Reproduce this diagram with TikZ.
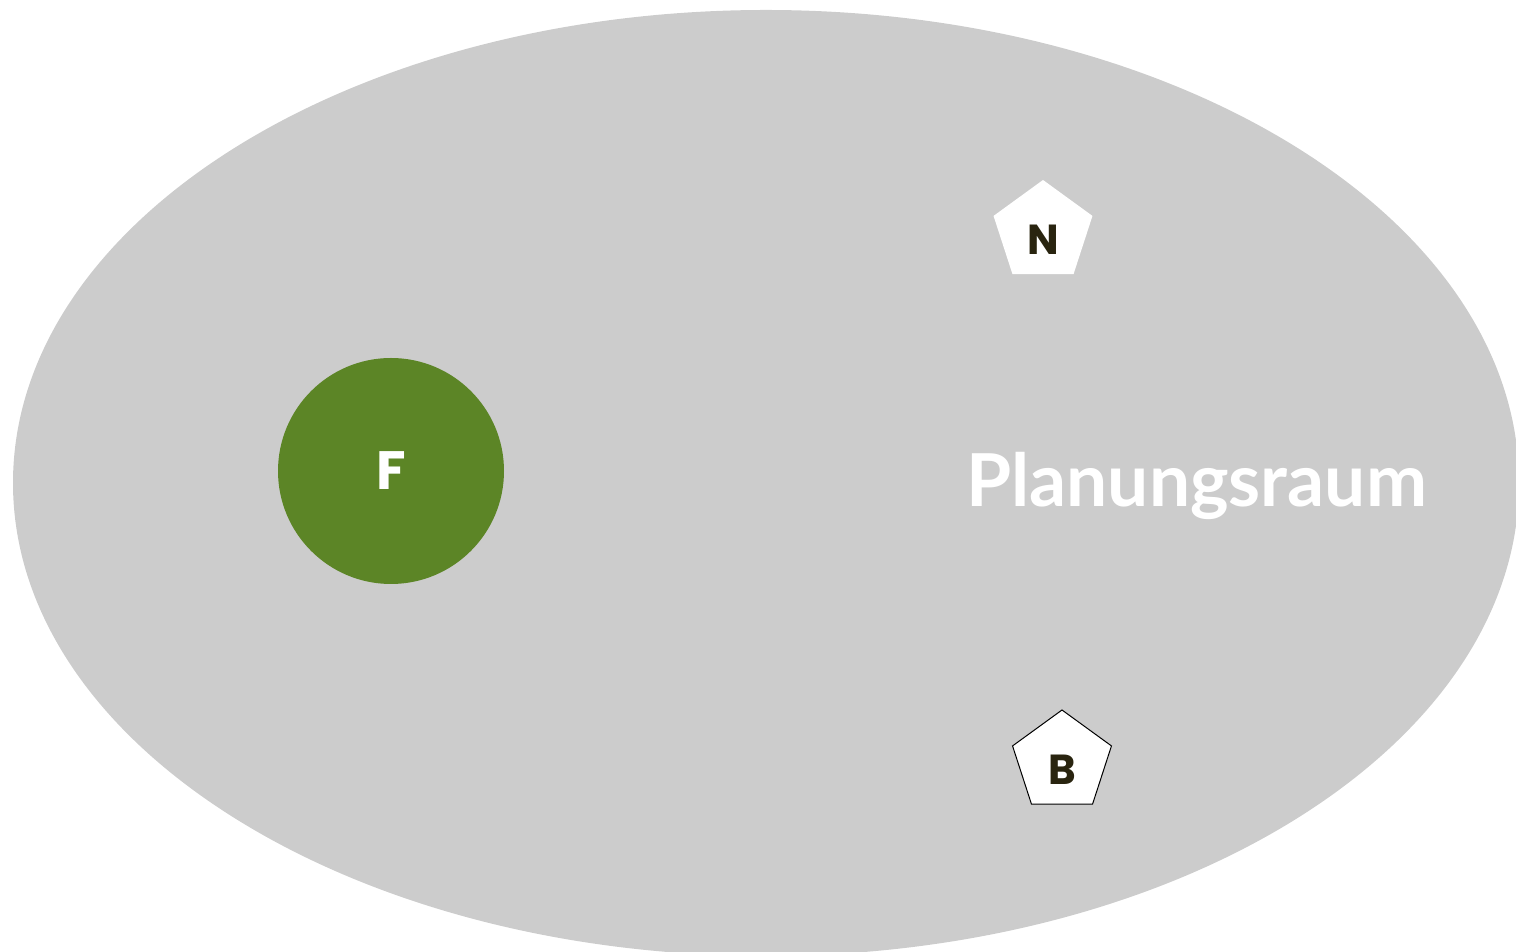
\documentclass[tikz,border=0pt]{standalone}
\usepackage{fontspec}
\setmainfont{Poppins}
\newfontfamily\raumfont{Lato}
\usetikzlibrary{shapes.geometric}
\begin{document}
\begin{tikzpicture}[x=1pt,y=1pt,
  raumfill/.style={fill=raumColor},
  fnode/.style={circle,fill=fColor,inner sep=0pt,minimum size=113pt,text=white,font=\bfseries\fontsize{27}{27}\selectfont},
  pnode/.style={regular polygon,regular polygon sides=5,fill=white,inner sep=0pt,minimum size=52pt,text height=23pt,text=letterColor,font=\bfseries\fontsize{21}{21}\selectfont}]
\definecolor[named]{raumColor}{rgb}{0.80,0.80,0.80}
\definecolor[named]{fColor}{rgb}{0.36,0.52,0.15}
\definecolor[named]{letterColor}{rgb}{0.16,0.14,0.06}
\path[use as bounding box] (0,0) rectangle (758,476);
\begin{scope}
\path[clip] (0,0) rectangle (758,476);
\path[raumfill] (383.0,234.5) ellipse [x radius=376.5, y radius=236.5];
\end{scope}
\node[fnode] (F) at (195.5,240.5) {F};
\node[pnode] (N) at (521.5,360.0) {N};
\node[pnode,draw=black,line width=0.5pt] (B) at (531.0,95.0) {B};
\node[text=white,anchor=base west,inner sep=0pt,font=\raumfont\bfseries\fontsize{36.5}{36.5}\selectfont] (raum) at (483.0,222.5) {Planungsraum};
\end{tikzpicture}
\end{document}
